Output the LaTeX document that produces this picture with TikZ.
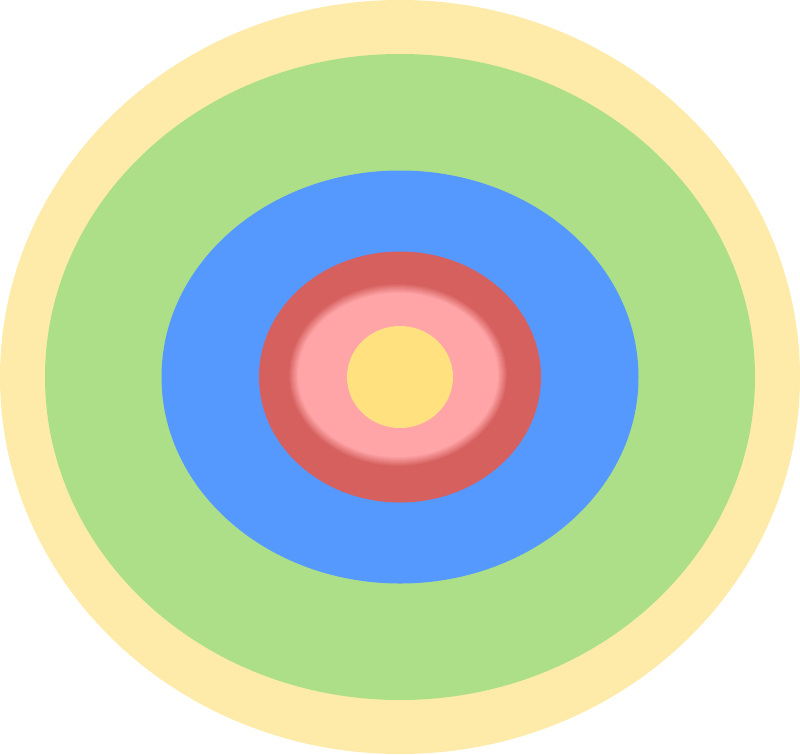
\documentclass[tikz,border=0pt]{standalone}
\definecolor{outeryellow}{HTML}{FEEBAA}
\definecolor{ringgreen}{HTML}{ADDF88}
\definecolor{ringblue}{HTML}{5599FF}
\definecolor{ringred}{HTML}{D5605E}
\definecolor{ringpink}{HTML}{FFA5A8}
\definecolor{coreyellow}{HTML}{FFE17F}
\begin{document}
\begin{tikzpicture}[x=0.01cm,y=-0.01cm]
\useasboundingbox (0,0) rectangle (800,754);
\coordinate (c) at (400,377);

\fill[outeryellow] (c) ellipse (400 and 377);
\fill[ringgreen] (c) ellipse (355 and 323);
\fill[ringblue] (c) ellipse (238.5 and 206.5);
\fill[ringred] (c) ellipse (141 and 125.5);
% soft edge of the pink ring
\foreach \i in {0,...,10}
  \fill[ringpink!\the\numexpr\i*10\relax!ringred] (398,375) ellipse ({110-\i} and {92-\i});
\fill[coreyellow] (400,377) ellipse (53 and 51);
\end{tikzpicture}
\end{document}
